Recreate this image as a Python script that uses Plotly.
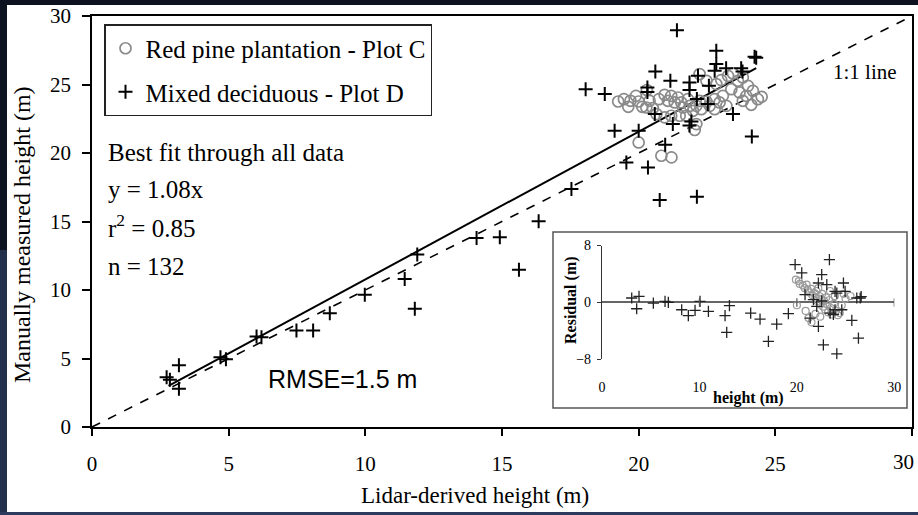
import plotly.graph_objects as go

# ---------------- data ----------------
pine_lidar = [19.25, 19.46, 19.7, 19.62, 20.0, 20.13, 20.4, 20.52, 20.74, 20.95, 21.07, 21.19,
              21.32, 21.44, 21.56, 21.62, 21.8, 21.87, 21.99, 22.11, 22.23, 22.29, 22.48, 22.6,
              22.78, 22.96, 23.08, 23.21, 22.84, 23.02, 23.27, 23.45, 23.63, 23.81, 24.0, 24.18,
              24.36, 23.81, 24.12, 23.69, 23.94, 23.39, 22.23, 22.48, 20.65, 20.95, 21.19, 21.5,
              21.74, 22.11, 22.05, 22.78, 20.0, 20.83, 21.2, 20.28, 19.9, 20.3, 24.5]
pine_measured = [23.76, 23.93, 23.81, 23.37, 23.76, 23.37, 23.81, 23.27, 23.93, 24.25, 23.81, 24.17,
                 23.69, 24.05, 23.69, 23.32, 23.93, 23.44, 23.08, 23.44, 23.81, 23.2, 23.76, 23.44,
                 23.93, 23.69, 24.17, 23.44, 25.03, 25.32, 25.63, 25.81, 25.27, 25.51, 24.9, 24.54,
                 23.93, 23.81, 23.52, 24.42, 24.17, 24.66, 25.76, 25.27, 22.84, 22.6, 22.72, 22.72,
                 22.72, 22.11, 21.68, 23.2, 20.77, 19.8, 19.68, 23.32, 24.17, 24.6, 24.1]

decid_lidar = [2.73, 2.85, 3.18, 3.18, 4.7, 4.9, 6.02, 6.2, 7.48, 8.09, 8.7, 9.98, 11.44, 11.81,
               11.9, 14.07, 14.92, 15.62, 16.34, 17.54, 18.06, 18.76, 19.12, 19.55, 20.0, 20.34,
               20.77, 22.13, 20.97, 20.32, 20.32, 20.61, 21.16, 21.86, 21.86, 22.17, 22.57, 22.13,
               22.53, 20.59, 21.25, 21.93, 21.86, 23.45, 24.14, 21.4, 22.84, 22.84, 22.78, 23.2,
               23.75, 23.8, 24.24, 24.3]
decid_measured = [3.64, 3.45, 4.5, 2.8, 5.1, 4.95, 6.61, 6.56, 7.05, 7.05, 8.31, 9.65, 10.8, 8.63,
                  12.6, 13.8, 13.85, 11.47, 15.01, 17.37, 24.66, 24.3, 21.62, 19.31, 21.62, 18.95,
                  16.57, 16.81, 20.6, 24.78, 24.45, 25.95, 25.27, 25.15, 24.59, 25.63, 24.9, 23.94,
                  23.57, 22.84, 22.11, 22.3, 22.0, 22.84, 21.2, 28.96, 27.46, 26.49, 26.0, 26.19,
                  26.19, 25.95, 27.02, 26.95]

fit_x = [2.8, 24.3]          # best fit y = 1.08x, drawn over the data range
fit_y = [3.0, 26.2]
one_x = [0, 30]              # 1:1 line
one_y = [0, 30]

# inset: residuals vs height
res_pine_height = [19.9, 20.2, 20.3, 20.6, 20.8, 21.0, 21.1, 21.3, 21.5, 21.6, 21.8, 21.9, 22.0,
                   22.1, 22.3, 22.4, 22.5, 22.6, 22.7, 22.8, 22.9, 23.0, 23.1, 23.2, 23.3, 23.5,
                   23.6, 23.8, 24.0, 24.2, 24.4, 23.9, 24.6, 25.0, 25.5, 20.0, 21.2, 21.5, 21.9,
                   22.4, 20.9, 23.4, 24.8, 22.2]
res_pine_resid = [3.2, 3.0, 2.6, 2.4, 2.0, 2.5, 1.8, 1.4, 1.9, 1.0, 1.3, 0.6, 1.6,
                  0.2, 0.9, -0.3, 0.5, 1.2, -0.6, 0.2, -1.0, 0.7, -0.3, -1.4, 0.3, -0.8,
                  -1.7, -0.2, -1.2, -1.8, -1.5, 0.9, -0.4, 0.5, 0.9, -0.4, -2.2, -2.8, -1.6,
                  -2.0, -1.2, 1.6, 1.2, 2.0]
res_decid_height = [3.05, 3.8, 3.56, 5.27, 6.47, 6.81, 8.18, 8.86, 9.55, 10.06, 10.92, 12.63, 13.08,
                    12.8, 15.26, 16.22, 17.08, 17.93, 19.13, 19.82, 20.5, 20.84, 21.36, 22.21,
                    22.55, 22.21, 22.72, 23.34, 23.07, 23.92, 24.1, 23.92, 24.61, 24.78, 24.95,
                    25.64, 26.15, 26.5, 26.6, 26.32, 22.55, 23.41, 23.75, 21.7, 22.04, 24.1]
res_decid_resid = [0.62, 0.85, -0.89, -0.09, 0.14, 0.0, -1.03, -1.87, -1.12, 0.14, -1.27, -1.87, -0.46,
                   -4.22, -1.5, -2.34, -5.49, -3.05, -1.59, 5.31, 4.14, 1.08, -2.2, 2.73,
                   3.9, -3.38, -5.96, 6.01, 2.49, 1.55, -7.23, -1.03, -1.03, 2.73, 1.55,
                   -2.54, 0.62, 0.62, 0.8, -5.02, 0.2, -1.5, -1.7, 0.38, -0.56, 1.3]

main_ticks = [0, 5, 10, 15, 20, 25, 30]
inset_xticks = [0, 10, 20, 30]
inset_yticks = [-8, 0, 8]

# ---------------- layout geometry ----------------
W, H = 918, 515
ML, MR, MT, MB = 92, 6, 16, 88
PW = W - ML - MR
PH = H - MT - MB


def px(X):
    return (X - ML) / PW


def py(Y):
    return (H - MB - Y) / PH


SERIF = "Liberation Serif"
fig = go.Figure()

fig.add_trace(go.Scatter(
    x=one_x, y=one_y, mode="lines", showlegend=False, hoverinfo="skip",
    line=dict(color="black", width=1.6, dash="dash")))
fig.add_trace(go.Scatter(
    x=fit_x, y=fit_y, mode="lines", showlegend=False, hoverinfo="skip",
    line=dict(color="black", width=2)))
fig.add_trace(go.Scatter(
    x=pine_lidar, y=pine_measured, mode="markers", name="Red pine plantation - Plot C",
    legendgroup="a",
    marker=dict(symbol="circle-open", size=11, color="#8a8a8a", line=dict(width=1.7))))
fig.add_trace(go.Scatter(
    x=decid_lidar, y=decid_measured, mode="markers", name="Mixed deciduous - Plot D",
    legendgroup="b",
    marker=dict(symbol="cross-thin-open", size=10, color="black", line=dict(width=2))))

# inset
fig.add_trace(go.Scatter(
    x=res_pine_height, y=res_pine_resid, mode="markers", xaxis="x2", yaxis="y2",
    showlegend=False,
    marker=dict(symbol="circle-open", size=7, color="#9a9a9a", line=dict(width=1.2))))
fig.add_trace(go.Scatter(
    x=res_decid_height, y=res_decid_resid, mode="markers", xaxis="x2", yaxis="y2",
    showlegend=False,
    marker=dict(symbol="cross-thin-open", size=8, color="#222", line=dict(width=1.3))))

shapes = [
    # white picture area on the dark slide
    dict(type="rect", xref="paper", yref="paper", x0=px(7), x1=px(918), y0=py(512), y1=py(5),
         fillcolor="white", line=dict(width=0), layer="below"),
    dict(type="rect", xref="paper", yref="paper", x0=px(0), x1=px(918), y0=py(515), y1=py(512),
         fillcolor="#2c3b5e", line=dict(width=0), layer="below"),
    dict(type="rect", xref="paper", yref="paper", x0=px(0), x1=px(7), y0=py(512), y1=py(250),
         fillcolor="#22304c", line=dict(width=0), layer="below"),
    # inset frame
    dict(type="rect", xref="paper", yref="paper", x0=px(553), x1=px(907), y0=py(408), y1=py(232),
         fillcolor="white", line=dict(color="#555", width=1.5), layer="below"),
]
for t in inset_xticks[1:]:
    shapes.append(dict(type="line", xref="x2", yref="y2", x0=t, x1=t, y0=-0.6, y1=0.6,
                       line=dict(color="#555", width=1.2)))

ann = []


def add_text(text, X, Y, size, xanchor="left", family=SERIF, angle=0, bold=False):
    ann.append(dict(text=("<b>%s</b>" % text) if bold else text, x=px(X), y=py(Y),
                    xref="paper", yref="paper", showarrow=False, xanchor=xanchor,
                    yanchor="middle", textangle=angle,
                    font=dict(family=family, size=size, color="black")))


add_text("Best fit through all data", 106, 152, 25)
add_text("y = 1.08x", 106, 189, 25)
add_text("r<sup>2</sup> = 0.85", 106, 226, 25)
add_text("n = 132", 106, 266, 25)
add_text("1:1 line", 831, 72, 21)
add_text("RMSE=1.5 m", 266, 379, 25, family="Liberation Sans")
add_text("Lidar-derived height (m)", 475, 496, 23, xanchor="center")
add_text("Manually measured height (m)", 22, 235, 24, xanchor="center", angle=-90)
add_text("Residual (m)", 571, 300, 16, xanchor="center", angle=-90, bold=True)
add_text("height (m)", 748, 398, 16, xanchor="center", bold=True)
# last x tick label at the right edge of the picture
add_text(str(main_ticks[-1]), 916, 462, 21, xanchor="right")

axis_common = dict(showgrid=False, zeroline=False, showline=True, linecolor="black",
                   linewidth=1.8, mirror=True, ticks="outside", tickcolor="black",
                   tickwidth=1.5, tickvals=main_ticks, automargin=False,
                   tickfont=dict(family=SERIF, size=21, color="black"))

fig.update_layout(
    width=W, height=H,
    margin=dict(l=ML, r=MR, t=MT, b=MB, pad=0, autoexpand=False),
    paper_bgcolor="#0d1220",
    plot_bgcolor="white",
    xaxis=dict(range=[0, 30], ticklen=7, ticklabelstandoff=10, **axis_common),
    yaxis=dict(range=[0, 30], ticklen=8, ticklabelstandoff=7, **axis_common),
    xaxis2=dict(domain=[px(602), px(894.3)], anchor="y2", range=[0, 30], tickvals=inset_xticks,
                showgrid=False, zeroline=False, showline=False, ticks="", automargin=False,
                ticklabelstandoff=18, tickfont=dict(family=SERIF, size=14, color="black")),
    yaxis2=dict(domain=[py(359.3), py(245.5)], anchor="x2", range=[-8, 8], tickvals=inset_yticks,
                showgrid=False, zeroline=True, zerolinecolor="#666", zerolinewidth=1.5,
                showline=True, linecolor="#333", linewidth=1.2, ticks="outside", ticklen=4,
                tickcolor="#333", ticklabelstandoff=3, automargin=False,
                tickfont=dict(family=SERIF, size=14, color="black")),
    legend=dict(x=px(104), y=py(24), xanchor="left", yanchor="top",
                bgcolor="white", bordercolor="#222", borderwidth=1.5,
                font=dict(family=SERIF, size=25, color="black"),
                tracegroupgap=8, traceorder="grouped", itemwidth=30),
    shapes=shapes,
    annotations=ann,
    showlegend=True,
)

fig.write_html("out.html", config={"displayModeBar": False},
               post_script="document.body.style.margin='0';")
